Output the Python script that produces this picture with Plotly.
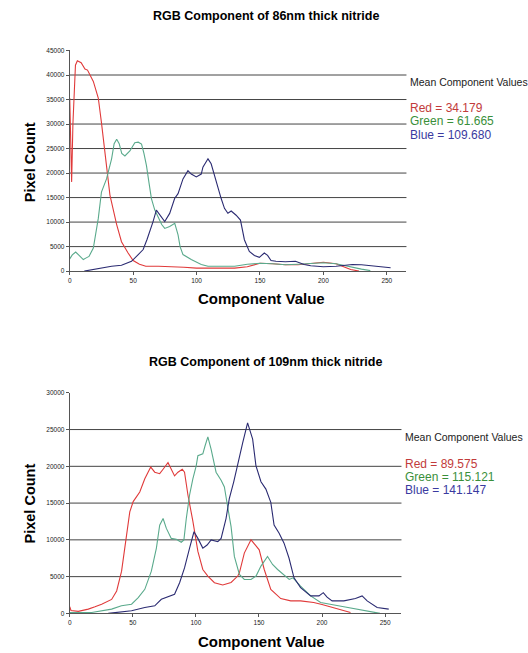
import plotly.graph_objects as go

W, H = 528, 653

# ---------------- data: 86nm nitride ----------------
t_red_x = [0, 1, 1.5, 2.5, 4.5, 6, 9, 12, 14, 18.6, 22.5, 25, 27.8, 31.7, 37, 40.8, 46, 50, 55, 60, 70, 80, 90, 100, 110, 120, 130, 140, 150, 160, 170, 180, 192.7, 200, 210, 221.5, 228]
t_red_y = [35300, 27000, 18200, 30000, 42000, 42900, 42500, 41200, 41000, 38700, 35300, 30300, 24200, 15500, 9500, 6000, 3700, 2150, 1400, 1000, 1000, 950, 800, 600, 550, 550, 600, 900, 1600, 1500, 1300, 1300, 1700, 1800, 1500, 340, 0]

t_green_x = [0, 2, 4.7, 8, 10.7, 13, 15.2, 18.6, 20.5, 22.5, 25, 29, 33, 35, 37, 39, 41, 43.5, 47.4, 51.3, 54, 56.6, 58.5, 60.5, 62.5, 64.4, 67, 69.7, 72.5, 74.9, 78.8, 82.8, 85.4, 87, 89.3, 95.8, 103.7, 109, 120, 130, 140, 150, 160, 170, 180, 190, 200, 210, 220, 230, 237]
t_green_y = [2500, 3300, 3900, 3000, 2350, 2700, 3000, 4700, 7500, 10750, 16100, 18800, 22900, 26000, 26900, 26000, 24000, 23500, 24500, 26200, 26300, 25900, 24000, 21500, 18000, 14800, 12500, 11100, 9500, 8700, 9100, 9750, 7400, 5000, 3370, 2350, 1350, 1000, 950, 1000, 1400, 1600, 1500, 1300, 1400, 1500, 1700, 1500, 900, 400, 100]

t_blue_x = [11.5, 18, 25, 33, 40.8, 48.7, 54, 57.9, 61, 63.1, 65.7, 68.3, 71, 74.9, 78.8, 82.7, 85.4, 89.3, 93.2, 95.8, 99.8, 103.7, 105, 109, 111.5, 115.5, 119.4, 122, 124.7, 127.3, 131.2, 134.6, 137.7, 141.6, 145.6, 149.5, 153.4, 156, 158.7, 162.6, 170, 178, 184.8, 190, 200, 210, 222.8, 230, 240, 253]
t_blue_y = [0, 300, 540, 1000, 1200, 2000, 3370, 4400, 6500, 8070, 10100, 12450, 11500, 10100, 11770, 14800, 15800, 18800, 20500, 19800, 19200, 19800, 21200, 22900, 21900, 18200, 14800, 12800, 11800, 12250, 11400, 10400, 6400, 4000, 3200, 2800, 3700, 3200, 2150, 2000, 1900, 2000, 1350, 1100, 900, 1000, 1350, 1300, 1000, 670]

# ---------------- data: 109nm nitride ----------------
b_red_x = [0, 1, 6.8, 14.7, 20, 25.3, 33.2, 37.2, 41.1, 45, 47.6, 50.3, 55.5, 59.5, 64.2, 67.4, 71.3, 74, 77.9, 80.5, 83.1, 85.8, 89.2, 91, 93.7, 97.6, 101.6, 105.5, 109.5, 114.7, 121.3, 127.9, 133.2, 134.5, 138.4, 143.7, 150.2, 154.2, 159.4, 167.3, 175.2, 183, 193.4, 200, 209.5, 222.6]
b_red_y = [900, 400, 270, 580, 900, 1250, 1900, 3050, 5740, 10200, 13800, 15200, 16500, 18300, 19900, 19200, 19000, 19600, 20500, 19600, 18700, 19200, 19600, 19200, 16100, 12550, 8430, 5970, 5080, 4170, 3860, 4200, 5080, 5510, 8200, 10000, 8650, 5970, 3270, 2020, 1700, 1700, 1480, 1200, 720, 130]

b_green_x = [0, 17.4, 33.2, 41, 49, 54.3, 59.5, 64.7, 68.7, 71.3, 74, 76.6, 80.5, 84.5, 88.4, 90.5, 92.4, 95, 97.6, 100.3, 101.6, 105.5, 107.3, 109.5, 112.1, 116, 120, 122.6, 125.2, 127.9, 130.5, 134.5, 138.4, 143.7, 147.7, 151.6, 156.8, 160.8, 164.8, 171.4, 174, 177, 183, 191, 198.9, 217.3, 235.8, 246]
b_green_y = [100, 130, 580, 1030, 1250, 2150, 3270, 5740, 8880, 12000, 12900, 11560, 10200, 10080, 9680, 10000, 12900, 16100, 18300, 20100, 21450, 21700, 22800, 24000, 22300, 19200, 18100, 17200, 14500, 11800, 7750, 5290, 4620, 4620, 5080, 6430, 7750, 6650, 5970, 5080, 4620, 4840, 3720, 2380, 1480, 900, 360, 0]

b_blue_x = [30.5, 49, 59.5, 67.4, 72.6, 77.9, 83.1, 87.1, 91, 95, 98.5, 101.6, 105.5, 108.9, 112.1, 117.4, 120, 123.9, 126.5, 130, 133.2, 137.1, 141, 145, 147.6, 151.6, 155.5, 159.4, 162, 166, 169.9, 173.8, 177.8, 183, 191, 197.6, 201, 204, 208, 217.3, 226.5, 231.8, 235.8, 243.7, 252.9]
b_blue_y = [0, 360, 810, 1030, 1920, 2240, 2600, 4170, 6190, 8880, 11100, 10200, 8880, 9300, 10000, 9750, 10200, 12900, 15600, 17900, 20100, 23200, 25900, 23700, 20100, 17900, 16900, 15100, 12000, 10900, 9550, 7530, 4840, 3500, 2380, 2380, 2820, 2200, 1700, 1700, 2020, 2380, 1700, 810, 580]

titles = ["RGB Component of 86nm thick nitride", "RGB Component of 109nm thick nitride"]
means = [("34.179", "61.665", "109.680"), ("89.575", "115.121", "141.147")]
top_grid = [5000, 10000, 15000, 20000, 25000, 30000, 35000, 40000]
bot_grid = [5000, 10000, 15000, 20000, 25000]
x_ticks = [0, 50, 100, 150, 200, 250]

LINE_R, LINE_G, LINE_B = "#e03a3a", "#5aaa8c", "#2b2b72"
TXT_R, TXT_G, TXT_B = "#c23b3b", "#3a8f3a", "#3a3aa0"
FONT = "Liberation Sans, Arial, sans-serif"

fig = go.Figure()

def px_x(p):
    return p / W

def px_y(p):
    return 1 - p / H

series = [
    ("x", "y", t_red_x, t_red_y, LINE_R), ("x", "y", t_green_x, t_green_y, LINE_G), ("x", "y", t_blue_x, t_blue_y, LINE_B),
    ("x2", "y2", b_red_x, b_red_y, LINE_R), ("x2", "y2", b_green_x, b_green_y, LINE_G), ("x2", "y2", b_blue_x, b_blue_y, LINE_B),
]
for xa, ya, xs, ys, c in series:
    fig.add_trace(go.Scatter(x=xs, y=ys, xaxis=xa, yaxis=ya, mode="lines",
                             line=dict(color=c, width=1.1), showlegend=False, hoverinfo="skip"))

axis_common = dict(showgrid=False, zeroline=False, showline=True, linecolor="#555", linewidth=1,
                   ticks="outside", ticklen=3, tickcolor="#555", tickformat="d",
                   tickfont=dict(family=FONT, size=6.5, color="#222"))

fig.update_layout(
    width=W, height=H, margin=dict(l=0, r=0, t=0, b=0),
    paper_bgcolor="white", plot_bgcolor="white",
    xaxis=dict(domain=[px_x(68), px_x(406)], range=[0, 265.5], anchor="y", tickvals=x_ticks, **axis_common),
    yaxis=dict(domain=[px_y(270), px_y(47)], range=[0, 45000], anchor="x", dtick=5000, **axis_common),
    xaxis2=dict(domain=[px_x(68), px_x(401)], range=[0, 263], anchor="y2", tickvals=x_ticks, **axis_common),
    yaxis2=dict(domain=[px_y(616), px_y(393)], range=[0, 30000], anchor="x2", dtick=5000, **axis_common),
)

shapes = []
for g in top_grid:
    shapes.append(dict(type="line", xref="x domain", yref="y", x0=0, x1=1, y0=g, y1=g,
                       line=dict(color="#444", width=1), layer="below"))
for g in bot_grid:
    shapes.append(dict(type="line", xref="x2 domain", yref="y2", x0=0, x1=1, y0=g, y1=g,
                       line=dict(color="#444", width=1), layer="below"))
fig.update_layout(shapes=shapes)

ann = []
def text(x, y, s, size, color="#000", bold=False, xanchor="center", angle=0):
    ann.append(dict(x=px_x(x), y=px_y(y), xref="paper", yref="paper", text=(f"<b>{s}</b>" if bold else s),
                    showarrow=False, xanchor=xanchor, yanchor="middle", textangle=angle,
                    font=dict(family=FONT, size=size, color=color)))

# top chart texts
text(265, 12, titles[0], 12.5, bold=True)
text(260, 298, "Component Value", 15, bold=True)
text(28, 160, "Pixel Count", 14.5, bold=True, angle=-90)
text(408, 79, "Mean Component Values", 10.5, color="#222", xanchor="left")
text(408, 105, f"Red = {means[0][0]}", 12, color=TXT_R, xanchor="left")
text(408, 118.5, f"Green = {means[0][1]}", 12, color=TXT_G, xanchor="left")
text(408, 132, f"Blue = {means[0][2]}", 12, color=TXT_B, xanchor="left")

# bottom chart texts
text(265, 362, titles[1], 12.5, bold=True)
text(260, 644, "Component Value", 15, bold=True)
text(28, 505, "Pixel Count", 14.5, bold=True, angle=-90)
text(403, 438, "Mean Component Values", 10.5, color="#222", xanchor="left")
text(403, 465, f"Red = {means[1][0]}", 12, color=TXT_R, xanchor="left")
text(403, 478, f"Green = {means[1][1]}", 12, color=TXT_G, xanchor="left")
text(403, 491, f"Blue = {means[1][2]}", 12, color=TXT_B, xanchor="left")

fig.update_layout(annotations=ann)

fig.write_html("out.html", config={"displayModeBar": False},
               post_script="document.body.style.margin='0';document.body.style.padding='0';document.body.style.overflow='hidden';")
